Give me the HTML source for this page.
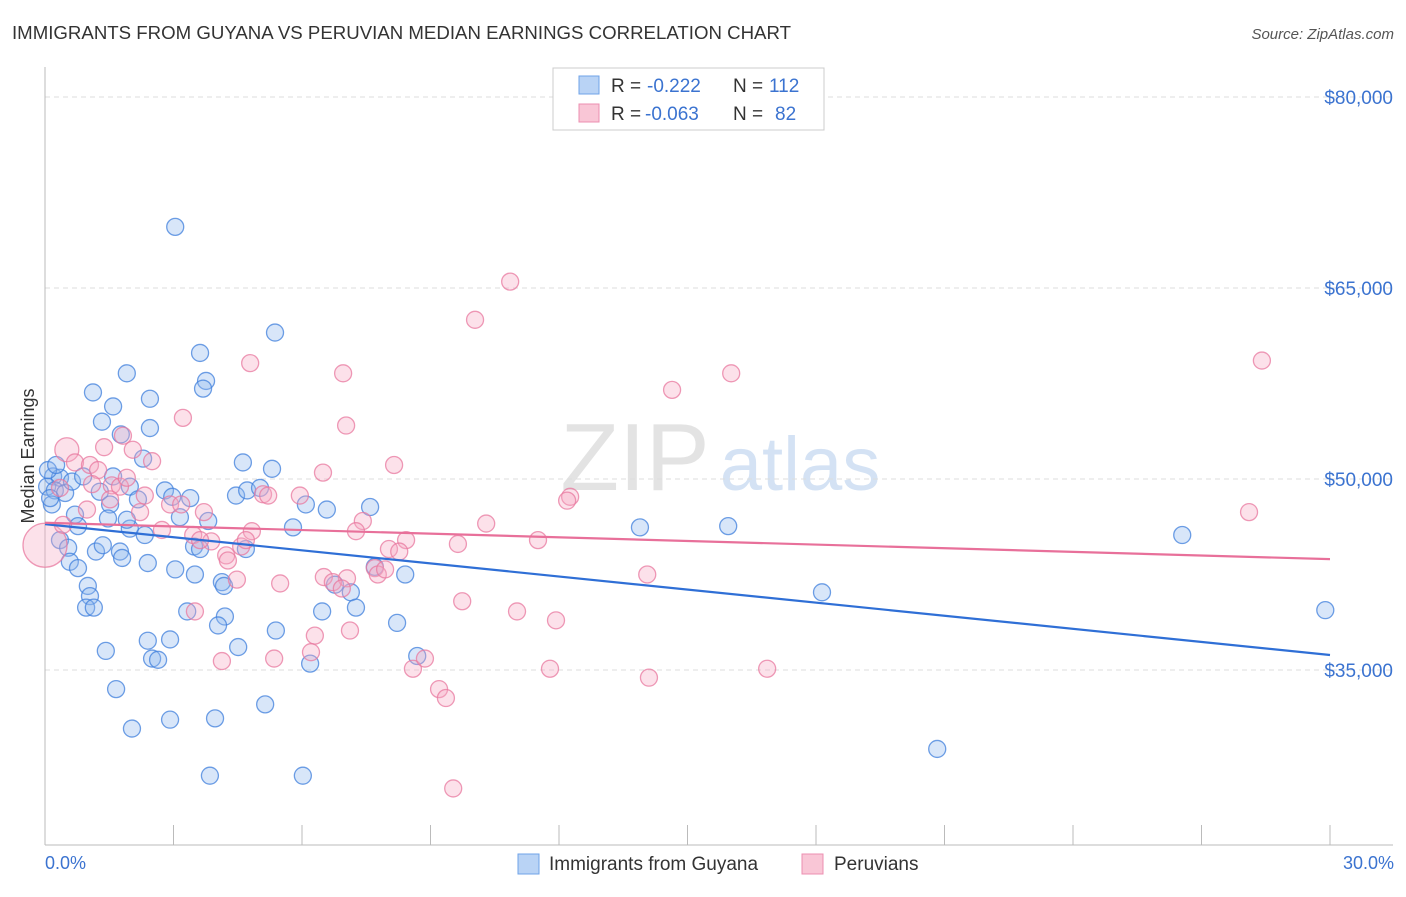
<!DOCTYPE html>
<html><head><meta charset="utf-8"><style>
body{margin:0;background:#fff;font-family:"Liberation Sans",sans-serif;}
svg text{font-family:"Liberation Sans",sans-serif;}
</style></head><body>
<svg id="chart" width="1406" height="892" xmlns="http://www.w3.org/2000/svg">
<text x="12" y="39" font-size="18" fill="#333" textLength="779" lengthAdjust="spacingAndGlyphs">IMMIGRANTS FROM GUYANA VS PERUVIAN MEDIAN EARNINGS CORRELATION CHART</text>
<text x="1394" y="39" font-size="15" fill="#555" font-style="italic" text-anchor="end">Source: ZipAtlas.com</text>
<g><text x="635" y="490" font-size="96" fill="#d8d8d8" font-family="Liberation Serif" text-anchor="middle" opacity="0.7">ZIP</text><text x="800" y="490" font-size="76" fill="#b8d0ee" text-anchor="middle" opacity="0.6">atlas</text></g>
<g id="grid"></g>
<g id="axes"></g>
<g id="pts"></g>
<g id="lines"></g>
<text transform="translate(34,456) rotate(-90)" font-size="18" fill="#333" text-anchor="middle">Median Earnings</text>
<text x="45" y="869" font-size="18" fill="#3b73d0">0.0%</text>
<text x="1394" y="869" font-size="18" fill="#3b73d0" text-anchor="end">30.0%</text>
<g>
<rect x="553" y="68" width="271" height="62" fill="#fff" stroke="#ccc"/>
<rect x="579" y="76" width="20" height="18" fill="#b9d3f5" stroke="#6fa3e8"/>
<text x="611" y="92" font-size="19" fill="#333">R =</text>
<text x="647" y="92" font-size="19" fill="#3b73d0">-0.222</text>
<text x="733" y="92" font-size="19" fill="#333">N =</text>
<text x="769" y="92" font-size="19" fill="#3b73d0">112</text>
<rect x="579" y="104" width="20" height="18" fill="#f9c6d6" stroke="#ec8fb0"/>
<text x="611" y="120" font-size="19" fill="#333">R =</text>
<text x="645" y="120" font-size="19" fill="#3b73d0">-0.063</text>
<text x="733" y="120" font-size="19" fill="#333">N =</text>
<text x="775" y="120" font-size="19" fill="#3b73d0">82</text>
</g>
<g>
<rect x="518" y="854" width="21" height="20" fill="#b9d3f5" stroke="#6fa3e8"/>
<text x="549" y="870" font-size="19" fill="#333">Immigrants from Guyana</text>
<rect x="802" y="854" width="21" height="20" fill="#f9c6d6" stroke="#ec8fb0"/>
<text x="834" y="870" font-size="19" fill="#333">Peruvians</text>
</g>
</svg>
<script>
const yTicks=[35,50,65,80];
const yTickLabels=["$35,000","$50,000","$65,000","$80,000"];
const blueX=[3.04,5.37,3.62,1.91,3.76,1.12,3.69,2.45,1.59,1.33,2.45,1.77,2.29,4.62,5.30,0.19,0.35,0.05,0.23,0.47,0.63,0.89,1.59,1.28,1.98,2.80,2.97,3.39,4.46,4.72,5.02,6.09,6.58,7.59,1.52,0.16,0.70,1.47,2.17,3.15,3.81,1.98,1.91,5.79,0.77,0.35,0.54,1.19,1.35,1.75,1.80,2.33,3.48,3.62,4.69,3.04,3.50,2.40,0.58,0.77,1.00,1.05,0.96,1.14,4.13,4.18,6.77,7.14,7.70,8.41,3.32,4.20,6.47,7.26,8.22,4.04,5.39,1.42,2.40,2.92,2.50,2.64,4.51,6.19,8.69,1.66,5.14,2.92,3.97,2.03,3.85,6.02,13.89,15.95,18.14,20.83,26.55,29.89,0.12,0.07,0.26];
const blueY=[69.8,61.5,59.9,58.3,57.7,56.8,57.1,56.3,55.7,54.5,54.0,53.5,51.6,51.3,50.8,50.2,50.1,49.4,49.1,48.9,49.8,50.2,50.2,49.0,49.4,49.1,48.6,48.5,48.7,49.1,49.3,48.0,47.6,47.8,48.0,48.0,47.2,46.9,48.4,47.0,46.7,46.1,46.8,46.2,46.3,45.2,44.6,44.3,44.8,44.3,43.8,45.6,44.7,44.5,44.5,42.9,42.5,43.4,43.5,43.0,41.6,40.8,39.9,39.9,41.9,41.6,41.7,41.1,43.1,42.5,39.6,39.2,39.6,39.9,38.7,38.5,38.1,36.5,37.3,37.4,35.9,35.8,36.8,35.5,36.1,33.5,32.3,31.1,31.2,30.4,26.7,26.7,46.2,46.3,41.1,28.8,45.6,39.7,48.5,50.7,51.1];
const pinkX=[0,10.86,10.04,4.79,6.96,14.64,16.02,28.41,3.22,7.03,0.51,1.38,1.82,2.05,2.50,0.70,1.05,1.24,8.15,6.49,1.56,2.33,5.09,5.21,5.95,12.26,12.19,0.35,1.75,2.22,2.92,3.18,3.71,3.46,3.88,4.58,4.23,4.48,4.83,7.42,7.26,10.30,11.51,9.64,8.43,8.03,8.27,7.70,7.77,7.05,6.51,6.72,5.49,4.27,14.06,28.11,9.74,11.02,11.93,3.50,6.30,7.12,4.13,5.35,6.21,8.59,8.87,11.79,14.10,16.86,9.20,9.36,9.53,1.91,2.73,3.62,0.98,0.42,1.10,4.69,6.93,7.94,1.52];
const pinkY=[44.8,65.5,62.5,59.1,58.3,57.0,58.3,59.3,54.8,54.2,52.3,52.5,53.4,52.3,51.4,51.3,51.1,50.7,51.1,50.5,49.5,48.7,48.8,48.7,48.7,48.6,48.3,49.3,49.4,47.4,48.0,48.0,47.4,45.6,45.1,44.7,44.0,42.1,45.9,46.7,45.9,46.5,45.2,44.9,45.2,44.5,44.3,43.0,42.5,42.2,42.3,41.9,41.8,43.6,42.5,47.4,40.4,39.6,38.9,39.6,37.7,38.1,35.7,35.9,36.4,35.1,35.9,35.1,34.4,35.1,33.5,32.8,25.7,50.1,46.0,45.2,47.6,46.4,49.6,45.2,41.4,42.9,48.4];
const pinkSize=[22,8.5,8.5,8.5,8.5,8.5,8.5,8.5,8.5,8.5,12];
const NS="http://www.w3.org/2000/svg";
const X0=45,X1=1330,Y80=97,PX=(1330-45)/30,PY=(670-97)/45;
const sx=v=>X0+v*PX, sy=v=>Y80+(80-v)*PY;
function mk(t,a,p){const e=document.createElementNS(NS,t);for(const k in a)e.setAttribute(k,a[k]);p.appendChild(e);return e;}
const grid=document.getElementById('grid'),axes=document.getElementById('axes');
yTicks.forEach((t,i)=>{
 const l=mk('line',{x1:X0,x2:1393,y1:sy(t),y2:sy(t),stroke:'#ddd','stroke-dasharray':'5,4'},grid);
 
 
 const tx=mk('text',{x:1393,y:sy(t)+7,'font-size':19,fill:'#3b73d0','text-anchor':'end'},axes);
 tx.textContent=yTickLabels[i];
 
 
});
let a=mk('line',{x1:X0,x2:X0,y1:67,y2:845,stroke:'#bbb'},axes);


a=mk('line',{x1:X0,x2:1393,y1:845,y2:845,stroke:'#bbb'},axes);


for(let i=0;i<=10;i++){
 const t=mk('line',{x1:sx(i*3),x2:sx(i*3),y1:825,y2:845,stroke:'#bbb'},axes);
 
 
}
const pts=document.getElementById('pts');
function series(xs,ys,fill,stroke,name,sizes){
 xs.forEach((x,i)=>{
  const c=mk('circle',{cx:sx(x),cy:sy(ys[i]),r:(sizes&&sizes[i])||8.5,fill:fill,'fill-opacity':0.35,stroke:stroke,'stroke-opacity':0.75,'stroke-width':1.3},pts);
  
  
 });
}
series(blueX,blueY,'#8fb8ee','#3f7fdc','guyana-point');
series(pinkX,pinkY,'#f5a9c2','#e8789f','peruvian-point',pinkSize);
function fit(xs,ys){const n=xs.length;let mx=0,my=0;xs.forEach((x,i)=>{mx+=x;my+=ys[i];});mx/=n;my/=n;let sxy=0,sxx=0;xs.forEach((x,i)=>{sxy+=(x-mx)*(ys[i]-my);sxx+=(x-mx)**2;});const b=sxy/sxx;return [my-b*mx,b];}
const lines=document.getElementById('lines');
[[blueX,blueY,'#2f6fd6','guyana-trendline'],[pinkX,pinkY,'#e8709a','peruvian-trendline']].forEach(s=>{
 const f=fit(s[0],s[1]);
 const l=mk('line',{x1:sx(0),x2:sx(30),y1:sy(f[0]),y2:sy(f[0]+f[1]*30),stroke:s[2],'stroke-width':2.2},lines);
 
 
});
</script>
</body></html>
